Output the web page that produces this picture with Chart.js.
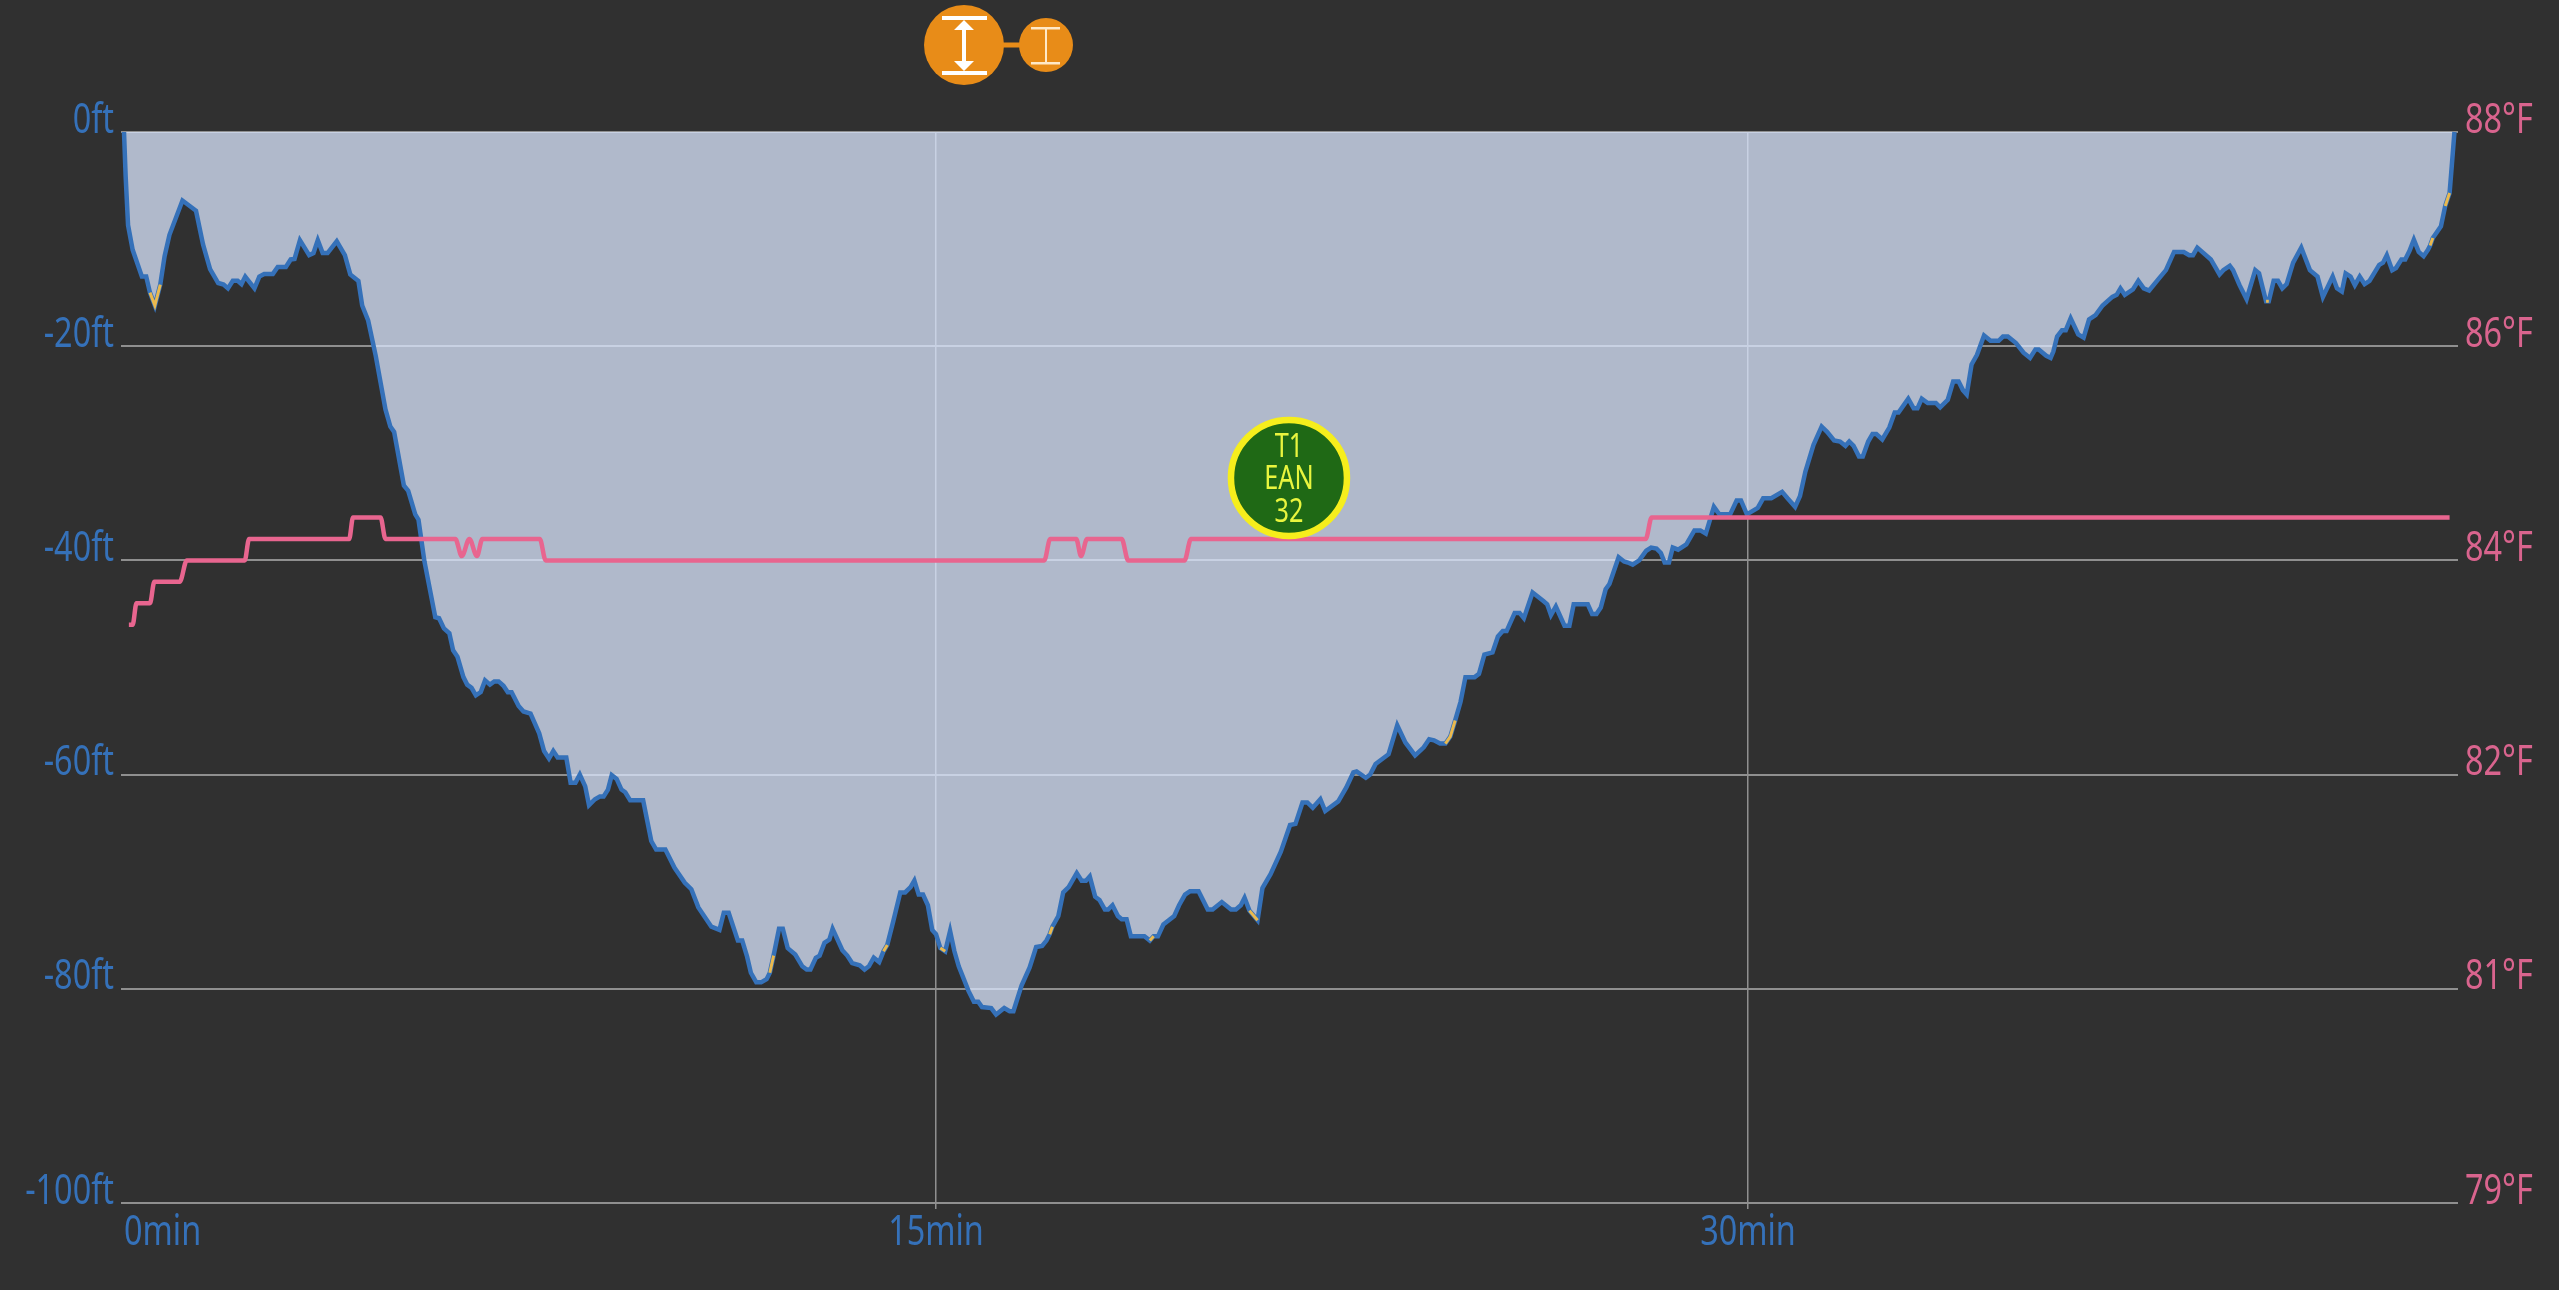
<!DOCTYPE html>
<html>
<head>
<meta charset="utf-8">
<title>Dive profile</title>
<script src="https://cdn.jsdelivr.net/npm/chart.js@4"></script>
<style>
  html, body { margin: 0; padding: 0; background: #303030; }
  canvas { display: block; }
</style>
</head>
<body>
<canvas id="dive" width="2559" height="1290"></canvas>
<script>
// DEPTH PROFILE (minutes / feet)
const diveTimes = [
  0, .03, .075, .16, .33, .41, .48, .57, .67, .75,
  .84, 1.08, 1.33, 1.46, 1.59, 1.74, 1.84, 1.92, 2.01, 2.10,
  2.17, 2.24, 2.41, 2.5, 2.59, 2.75, 2.84, 2.99, 3.08, 3.15,
  3.25, 3.42, 3.5, 3.58, 3.67, 3.76, 3.93, 4.08, 4.18, 4.33,
  4.4, 4.51, 4.65, 4.83, 4.92, 4.99, 5.17, 5.25, 5.38, 5.44,
  5.55, 5.75, 5.82, 5.91, 6.01, 6.08, 6.16, 6.27, 6.34, 6.42,
  6.5, 6.59, 6.67, 6.76, 6.84, 6.92, 7.01, 7.09, 7.16, 7.29,
  7.38, 7.51, 7.67, 7.76, 7.85, 7.93, 8.01, 8.17, 8.25, 8.34,
  8.42, 8.52, 8.59, 8.7, 8.79, 8.86, 8.94, 9.01, 9.1, 9.19,
  9.26, 9.35, 9.59, 9.74, 9.83, 10, 10.17, 10.36, 10.48, 10.61,
  10.85, 11, 11.08, 11.17, 11.34, 11.42, 11.51, 11.58, 11.68, 11.77,
  11.87, 11.93, 12, 12.1, 12.17, 12.26, 12.4, 12.53, 12.61, 12.68,
  12.78, 12.85, 12.94, 13.03, 13.09, 13.27, 13.36, 13.45, 13.59, 13.68,
  13.76, 13.85, 13.95, 14.03, 14.1, 14.21, 14.34, 14.43, 14.53, 14.6,
  14.68, 14.76, 14.85, 14.93, 15, 15.08, 15.17, 15.26, 15.34, 15.42,
  15.6, 15.7, 15.78, 15.85, 16.02, 16.11, 16.26, 16.36, 16.43, 16.58,
  16.73, 16.85, 16.96, 17.04, 17.1, 17.15, 17.26, 17.35, 17.45, 17.6,
  17.69, 17.77, 17.84, 17.94, 18.02, 18.12, 18.18, 18.26, 18.36, 18.43,
  18.52, 18.6, 18.85, 18.95, 19.02, 19.1, 19.2, 19.4, 19.49, 19.6,
  19.69, 19.85, 20.02, 20.11, 20.28, 20.45, 20.54, 20.63, 20.7, 20.79,
  20.94, 21.03, 21.18, 21.37, 21.54, 21.64, 21.77, 21.86, 21.96, 22.1,
  22.19, 22.43, 22.58, 22.71, 22.77, 22.94, 23.02, 23.12, 23.36, 23.52,
  23.67, 23.85, 24.01, 24.11, 24.2, 24.31, 24.41, 24.5, 24.59, 24.69,
  24.78, 24.95, 25.03, 25.13, 25.28, 25.38, 25.47, 25.54, 25.69, 25.78,
  25.86, 26.02, 26.22, 26.29, 26.36, 26.45, 26.61, 26.7, 26.78, 27.04,
  27.12, 27.2, 27.28, 27.37, 27.44, 27.61, 27.71, 27.78, 27.87, 27.99,
  28.12, 28.21, 28.31, 28.39, 28.46, 28.54, 28.61, 28.71, 28.86, 29.01,
  29.12, 29.22, 29.37, 29.47, 29.67, 29.79, 29.87, 29.98, 30.18, 30.28,
  30.43, 30.63, 30.73, 30.87, 30.96, 31.06, 31.21, 31.36, 31.46, 31.59,
  31.7, 31.8, 31.87, 31.95, 32.05, 32.12, 32.22, 32.3, 32.37, 32.48,
  32.61, 32.71, 32.78, 32.96, 33.06, 33.13, 33.21, 33.32, 33.47, 33.55,
  33.69, 33.79, 33.89, 33.97, 34.04, 34.13, 34.23, 34.36, 34.48, 34.63,
  34.71, 34.8, 34.95, 35.09, 35.21, 35.31, 35.37, 35.51, 35.59, 35.64,
  35.71, 35.8, 35.87, 35.96, 36.1, 36.2, 36.3, 36.42, 36.55, 36.73,
  36.81, 36.88, 36.96, 37.11, 37.21, 37.31, 37.41, 37.57, 37.72, 37.87,
  38.05, 38.15, 38.22, 38.3, 38.55, 38.71, 38.78, 38.9, 38.96, 39.08,
  39.21, 39.37, 39.44, 39.57, 39.62, 39.71, 39.79, 39.87, 39.95, 40.07,
  40.22, 40.38, 40.52, 40.62, 40.8, 40.88, 40.97, 41.04, 41.13, 41.21,
  41.3, 41.39, 41.48, 41.66, 41.73, 41.8, 41.9, 41.97, 42.07, 42.14,
  42.22, 42.3, 42.39, 42.48, 42.56, 42.6, 42.65, 42.8, 42.88, 42.96,
  43, 43.05
];
const diveDepths = [
  0, -4.1, -8.7, -11, -13.5, -13.5, -15, -16.2, -14.25, -11.6,
  -9.6, -6.4, -7.35, -10.5, -12.8, -14.1, -14.25, -14.6, -13.9, -13.9,
  -14.2, -13.5, -14.6, -13.5, -13.25, -13.25, -12.6, -12.6, -11.9, -11.85,
  -10.1, -11.5, -11.3, -10.1, -11.3, -11.3, -10.2, -11.5, -13.3, -13.9,
  -16.2, -17.6, -20.9, -25.9, -27.5, -28, -33, -33.5, -35.7, -36.2,
  -40.1, -45.3, -45.4, -46.35, -46.8, -48.4, -49, -50.9, -51.6, -51.9,
  -52.6, -52.3, -51.2, -51.6, -51.3, -51.3, -51.7, -52.3, -52.3, -53.6,
  -54.1, -54.3, -56.15, -57.8, -58.5, -57.8, -58.4, -58.4, -60.75, -60.75,
  -60, -61.1, -62.85, -62.3, -62.05, -62.05, -61.4, -60.05, -60.4, -61.4,
  -61.65, -62.4, -62.4, -66.2, -67, -67, -68.7, -70.1, -70.7, -72.4,
  -74.2, -74.5, -72.9, -72.9, -75.5, -75.5, -77, -78.5, -79.4, -79.4,
  -79.1, -78.5, -76.9, -74.4, -74.4, -76.2, -76.8, -77.9, -78.2, -78.2,
  -77.1, -76.9, -75.7, -75.4, -74.4, -76.4, -76.9, -77.6, -77.8, -78.2,
  -77.9, -77.1, -77.5, -76.5, -75.9, -73.7, -71, -71, -70.5, -69.9,
  -71.2, -71.2, -72.2, -74.5, -74.9, -76.2, -76.5, -74.6, -76.5, -77.9,
  -80.2, -81.2, -81.2, -81.7, -81.8, -82.4, -81.8, -82.1, -82.1, -79.7,
  -78, -76.1, -76, -75.5, -74.9, -74.2, -73.2, -71, -70.5, -69.2,
  -69.9, -69.9, -69.5, -71.4, -71.7, -72.6, -72.6, -72.2, -73.2, -73.5,
  -73.5, -75.1, -75.1, -75.5, -75.1, -75.1, -74, -73.2, -72.2, -71.2,
  -70.9, -70.9, -72.6, -72.6, -71.9, -72.6, -72.6, -72.2, -71.5, -72.7,
  -73.6, -70.6, -69.3, -67.2, -64.7, -64.6, -62.6, -62.6, -63.1, -62.3,
  -63.4, -62.5, -61.2, -59.8, -59.7, -60.3, -60, -59, -58.1, -55.4,
  -57, -58.2, -57.45, -56.7, -56.8, -57.1, -57.1, -56.45, -54.95, -53.2,
  -50.9, -50.9, -50.6, -48.8, -48.6, -47.1, -46.6, -46.6, -44.9, -44.9,
  -45.4, -43, -43.8, -44.1, -45.1, -44.3, -46.1, -46.1, -44.1, -44.1,
  -45, -45, -44.4, -42.7, -42.2, -39.7, -40.1, -40.2, -40.4, -40,
  -39.1, -38.8, -38.9, -39.3, -40.2, -40.2, -38.8, -39, -38.5, -37.2,
  -37.2, -37.5, -35, -35.7, -35.7, -34.4, -34.4, -35.7, -35.1, -34.2,
  -34.2, -33.6, -34.2, -35, -34, -31.7, -29.2, -27.5, -28, -28.8,
  -28.9, -29.3, -28.9, -29.3, -30.3, -30.3, -28.9, -28.2, -28.2, -28.7,
  -27.6, -26.2, -26.2, -24.9, -25.8, -25.8, -24.9, -25.3, -25.3, -25.7,
  -25, -23.3, -23.3, -24.1, -24.5, -21.7, -20.8, -19, -19.5, -19.5,
  -19.1, -19.1, -19.7, -20.6, -21.1, -20.3, -20.3, -20.9, -21.1, -20.5,
  -19.1, -18.5, -18.5, -17.4, -18.9, -19.2, -17.5, -17.1, -16.2, -15.4,
  -15.2, -14.6, -15.2, -14.7, -13.9, -14.6, -14.8, -13.8, -12.9, -11.2,
  -11.2, -11.5, -11.5, -10.8, -11.9, -13.3, -12.9, -12.5, -12.9, -14.3,
  -15.6, -12.9, -13.2, -15.8, -15.8, -13.9, -13.9, -14.6, -14.2, -12.2,
  -10.8, -12.9, -13.5, -15.4, -13.5, -14.6, -14.9, -13.2, -13.5, -14.3,
  -13.5, -14.2, -13.9, -12.4, -12.2, -11.5, -12.9, -12.7, -11.9, -11.9,
  -11.1, -10.05, -11.2, -11.6, -11, -10.6, -9.9, -8.8, -6.9, -5.7,
  -3.2, 0
];

// STRETCHES WHERE THE ASCENT WAS TOO FAST (start / end minute)
const warnStarts = [.48, 11.93, 14.03, 15.08, 17.1, 18.95, 20.79, 24.41, 39.57, 42.6, 42.88];
const warnEnds = [.67, 12, 14.1, 15.17, 17.15, 19.02, 20.94, 24.59, 39.62, 42.65, 42.96];

// TEMPERATURE (minutes / Celsius, the right axis is labelled in Fahrenheit)
const tempTimes = [
  .09, .16, .23, .27, .48, .56, .61, 1.03, 1.16, 2.23,
  2.31, 2.37, 4.16, 4.23, 4.29, 4.74, 4.83, 6.12, 6.24, 6.38,
  6.52, 6.62, 7.68, 7.79, 17, 17.11, 17.59, 17.68, 17.79, 18.43,
  18.55, 19.59, 19.71, 28.11, 28.22, 42.96
];
const tempValues = [
  28.7, 28.7, 28.8, 28.8, 28.8, 28.9, 28.9, 28.9, 29, 29,
  29.1, 29.1, 29.1, 29.2, 29.2, 29.2, 29.1, 29.1, 29.02, 29.1,
  29.02, 29.1, 29.1, 29, 29, 29.1, 29.1, 29.02, 29.1, 29.1,
  29, 29, 29.1, 29.1, 29.2, 29.2
];

// AXES
const timeTicks = [0, 15, 30];
const timeMax = 43.06;
const depthTicks = [0, -20, -40, -60, -80, -100];
const tempTicksC = [31, 30, 29, 28, 27, 26];
const tempTicksF = [88, 86, 84, 82, 81, 79];

// GAS SWITCH
const gasLines = ["T1", "EAN", "32"];
const gasTime = 21.52;
const gasDepth = -32.3;

const FONT = '"Noto Sans", sans-serif';
const BLUE = "#3571b9";
const PINK = "#e8658f";
const GRID = "#8f8f8f";
const NARROW = 0.79; // no condensed font installed, squeeze the text instead

function inWarn(t) {
  return warnStarts.some((s, i) => t >= s && t <= warnEnds[i]);
}

// TEXTO CONDENSADO
const condensed = {
  id: "condensed",
  beforeInit(chart) {
    const c = chart.ctx;
    const fill = c.fillText.bind(c);
    c.fillText = (txt, x, y) => fill(txt, x, y, c.measureText(txt).width * NARROW);
  }
};

// MARCADOR DE GAS + ICONE DE TOPO
const extras = {
  id: "extras",
  afterDatasetsDraw(chart) {
    const c = chart.ctx;
    const gx = chart.scales.x.getPixelForValue(gasTime);
    const gy = chart.scales.y.getPixelForValue(gasDepth);

    c.save();
    c.beginPath();
    c.arc(gx, gy, 58, 0, Math.PI * 2);
    c.fillStyle = "#1f6915";
    c.fill();
    c.lineWidth = 6.5;
    c.strokeStyle = "#f6ee1c";
    c.stroke();
    c.fillStyle = "#e9f53e";
    c.font = "32px " + FONT;
    c.textAlign = "center";
    c.textBaseline = "middle";
    gasLines.forEach((txt, i) => c.fillText(txt, gx, gy + 2 + (i - 1) * 32.5));

    // safety stop icon
    const orange = "#e88c18";
    c.strokeStyle = orange;
    c.lineWidth = 5;
    c.beginPath();
    c.moveTo(1000, 45);
    c.lineTo(1022, 45);
    c.stroke();
    c.fillStyle = orange;
    c.beginPath();
    c.arc(964, 45, 40, 0, Math.PI * 2);
    c.fill();
    c.beginPath();
    c.arc(1046, 45, 27, 0, Math.PI * 2);
    c.fill();

    c.fillStyle = "#fff";
    c.fillRect(942, 16, 45, 4);
    c.fillRect(942, 71, 45, 4);
    c.fillRect(962, 26, 4, 40);
    c.beginPath();
    c.moveTo(964, 20); c.lineTo(974, 30); c.lineTo(954, 30); c.closePath();
    c.moveTo(964, 71); c.lineTo(974, 61); c.lineTo(954, 61); c.closePath();
    c.fill();
    c.fillStyle = "#ffe9c8";
    c.fillRect(1031, 27, 29, 2.5);
    c.fillRect(1031, 62, 29, 2.5);
    c.fillRect(1045, 28, 2, 35);
    c.restore();
  }
};

new Chart(document.getElementById("dive"), {
  type: "line",
  plugins: [condensed, extras],
  data: {
    datasets: [
      {
        yAxisID: "y2",
        data: tempTimes.map((t, i) => ({ x: t, y: tempValues[i] })),
        borderColor: PINK,
        borderWidth: 4.5,
        borderJoinStyle: "round",
        cubicInterpolationMode: "monotone",
        pointRadius: 0,
        fill: false
      },
      {
        yAxisID: "y",
        data: diveTimes.map((t, i) => ({ x: t, y: inWarn(t) ? diveDepths[i] : null })),
        borderColor: "#eab94e",
        borderWidth: 3,
        pointRadius: 0,
        spanGaps: false,
        fill: false
      },
      {
        yAxisID: "y",
        data: diveTimes.map((t, i) => ({ x: t, y: diveDepths[i] })),
        borderColor: BLUE,
        borderWidth: 4.5,
        pointRadius: 0,
        clip: 6,
        fill: { target: "origin", above: "rgba(219,231,255,0.75)", below: "rgba(219,231,255,0.75)" }
      }
    ]
  },
  options: {
    responsive: false,
    animation: false,
    layout: { padding: { top: 132, left: 0, right: 0, bottom: 0 } },
    plugins: { legend: { display: false }, tooltip: { enabled: false } },
    scales: {
      x: {
        type: "linear",
        min: 0,
        max: timeMax,
        afterBuildTicks: s => { s.ticks = [...timeTicks, timeMax].map(v => ({ value: v })); },
        afterFit: s => { s.height = 87; },
        border: { display: false },
        grid: {
          color: ctx => (ctx.tick && ctx.tick.value > 0 && ctx.tick.value < timeMax) ? GRID : "transparent",
          lineWidth: 1.5,
          tickLength: 6
        },
        ticks: {
          autoSkip: false,
          maxRotation: 0,
          align: "inner",
          padding: 0,
          color: BLUE,
          font: { family: FONT, size: 41 },
          callback: v => timeTicks.includes(v) ? v + "min" : ""
        }
      },
      y: {
        position: "left",
        min: -100,
        max: 0,
        afterBuildTicks: s => { s.ticks = depthTicks.map(v => ({ value: v })); },
        afterFit: s => { s.width = 124; },
        border: { display: false },
        grid: { color: GRID, lineWidth: 2, tickLength: 3 },
        ticks: {
          padding: 7,
          labelOffset: -11,
          color: BLUE,
          font: { family: FONT, size: 41 },
          callback: v => v + "ft"
        }
      },
      y2: {
        position: "right",
        min: 26,
        max: 31,
        afterBuildTicks: s => { s.ticks = tempTicksC.map(v => ({ value: v })); },
        afterFit: s => { s.width = 104; },
        border: { display: false },
        grid: { drawOnChartArea: false, color: GRID, lineWidth: 2, tickLength: 3 },
        ticks: {
          padding: 7,
          labelOffset: -11,
          color: "#d9648e",
          font: { family: FONT, size: 41 },
          callback: v => tempTicksF[tempTicksC.indexOf(v)] + "°F"
        }
      }
    }
  }
});
</script>
</body>
</html>
